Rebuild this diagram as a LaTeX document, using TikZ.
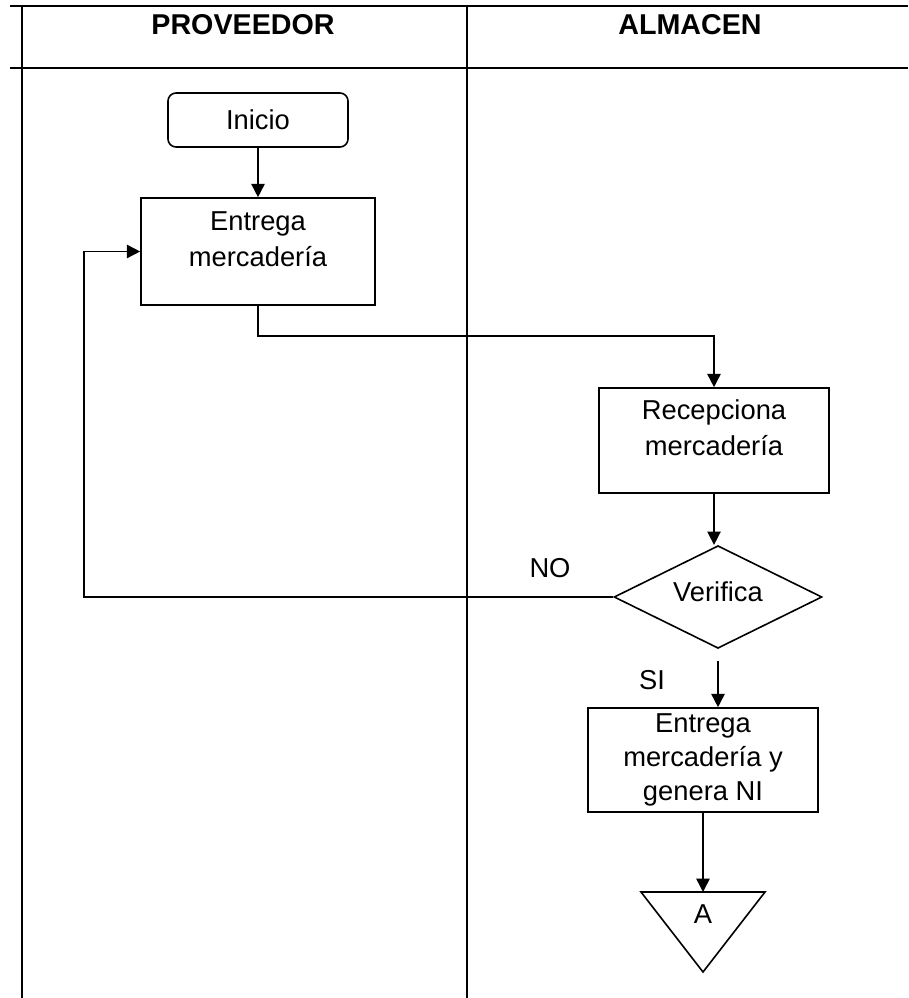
\documentclass[tikz,border=0pt]{standalone}
\usepackage{fontspec}
\setmainfont{Liberation Sans}
\usetikzlibrary{shapes.geometric,arrows.meta,positioning}

\begin{document}
\begin{tikzpicture}[x=0.75pt,y=-0.75pt,
		lane/.style={line width=1.3pt},
		proc/.style={rectangle,draw=black,line width=1.2pt,align=center,inner sep=2pt,font=\fontsize{20.5}{27}\selectfont},
		dec/.style={diamond,aspect=2,draw=black,line width=1.2pt,inner sep=0pt,minimum width=156pt,minimum height=77pt,font=\fontsize{20.5}{27}\selectfont},
		flow/.style={line width=1.2pt,-{Triangle[length=10pt,width=10pt]}},
		lbl/.style={font=\fontsize{20.5}{27}\selectfont},
		head/.style={font=\bfseries\fontsize{21.5}{24}\selectfont}]
			\useasboundingbox (0,0) rectangle (908,998);
	    % swimlanes
		  \draw[lane] (10,6) -- (908,6);
		  \draw[lane] (10,68) -- (908,68);
		  \draw[lane] (22,6) -- (22,998);
		  \draw[lane] (467,6) -- (467,998);
		  \node[head] (hprov) at (243,25) {PROVEEDOR};
		  \node[head] (halm) at (690,25) {ALMACEN};

	    % individual steps
	  	\node[proc,rounded corners=6pt,minimum width=135pt,minimum height=40.5pt] (inicio) at (258,120) {Inicio};
		  \node[proc,text depth=18pt,minimum width=175.5pt,minimum height=80.25pt] (entrega) at (258,251.5) {Entrega\\mercadería};
		  \node[proc,text depth=19pt,minimum width=172.5pt,minimum height=78.75pt] (recep) at (714,440.5) {Recepciona\\mercadería};
		  \node[dec,text depth=8pt] (verif) at (718,597) {Verifica};
		  \node[proc,font=\fontsize{20.5}{25.5}\selectfont,minimum width=172.5pt,minimum height=78pt] (entgen) at (703,760) {Entrega\\mercadería y\\genera NI};

		  % connector A
		  \draw[line width=1.2pt] (641,892) -- (765,892) -- (703,972) -- cycle;
		  \coordinate (conA) at (703,892);
		  \node[lbl] (letA) at (703,914) {A};

	    % flow
			\draw[flow] (inicio) -- (entrega);
			\draw[flow] (entrega.south) -- ++(0,30) -| (recep.north);
			\draw[flow] (recep.south) -- (recep.south |- verif.north);
			\draw[flow] (verif.west) -- ++(-529,0) |- (entrega.west);
			\draw[flow,shorten <=9pt] (verif.south) -- (verif.south |- entgen.north);
			\draw[flow] (entgen.south) -- (conA);

			% answers
			\node[lbl] (no) at (550,568) {NO};
			\node[lbl] (si) at (652,680) {SI};

	\end{tikzpicture}
\end{document}
